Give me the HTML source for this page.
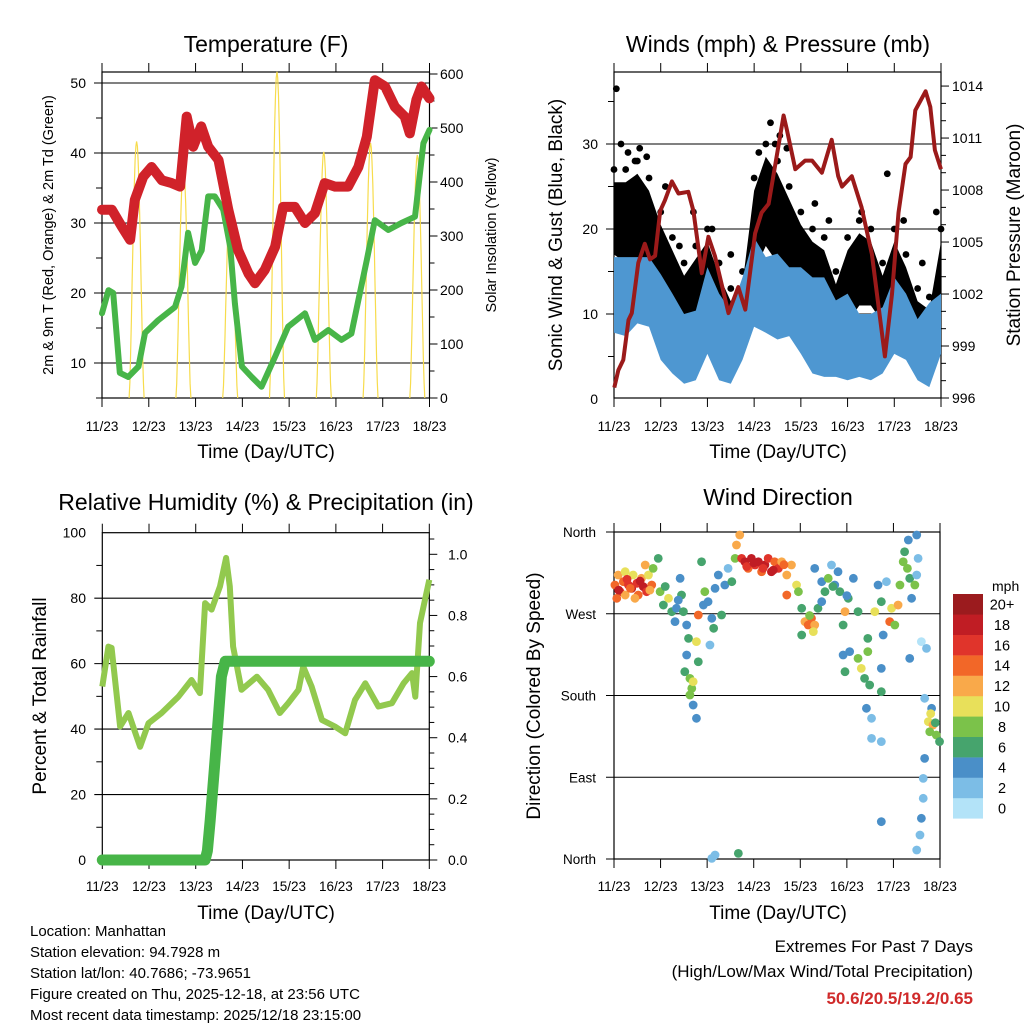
<!DOCTYPE html>
<html><head><meta charset="utf-8"><style>
html,body{margin:0;padding:0;background:#fff}
svg{display:block;font-family:"Liberation Sans",sans-serif}
</style></head><body>
<svg id="c" width="1024" height="1024" viewBox="0 0 1024 1024" xmlns="http://www.w3.org/2000/svg">
<rect width="1024" height="1024" fill="#fff"/>
<text x="266" y="52" font-size="23" text-anchor="middle">Temperature (F)</text>
<text x="778" y="52" font-size="23" text-anchor="middle">Winds (mph) &amp; Pressure (mb)</text>
<text x="266" y="510" font-size="23" text-anchor="middle">Relative Humidity (%) &amp; Precipitation (in)</text>
<text x="778" y="505" font-size="23" text-anchor="middle">Wind Direction</text>
<text x="266" y="458" font-size="19" text-anchor="middle">Time (Day/UTC)</text>
<text x="778" y="458" font-size="19" text-anchor="middle">Time (Day/UTC)</text>
<text x="266" y="919" font-size="19" text-anchor="middle">Time (Day/UTC)</text>
<text x="778" y="919" font-size="19" text-anchor="middle">Time (Day/UTC)</text>
<text transform="translate(53,235) rotate(-90)" font-size="14.5" text-anchor="middle">2m &amp; 9m T (Red, Orange) &amp; 2m Td (Green)</text>
<text transform="translate(496,235) rotate(-90)" font-size="14.5" text-anchor="middle">Solar Insolation (Yellow)</text>
<text transform="translate(562,235) rotate(-90)" font-size="19" text-anchor="middle">Sonic Wind &amp; Gust (Blue, Black)</text>
<text transform="translate(1020,235) rotate(-90)" font-size="19" text-anchor="middle">Station Pressure (Maroon)</text>
<text transform="translate(46,696) rotate(-90)" font-size="19" text-anchor="middle">Percent &amp; Total Rainfall</text>
<text transform="translate(540,696) rotate(-90)" font-size="19" text-anchor="middle">Direction (Colored By Speed)</text>
<g font-size="15">
<text x="30" y="936">Location: Manhattan</text>
<text x="30" y="957">Station elevation: 94.7928 m</text>
<text x="30" y="978">Station lat/lon: 40.7686; -73.9651</text>
<text x="30" y="999">Figure created on Thu, 2025-12-18, at 23:56 UTC</text>
<text x="30" y="1020">Most recent data timestamp: 2025/12/18 23:15:00</text>
</g>
<g font-size="17" text-anchor="end">
<text x="973" y="952">Extremes For Past 7 Days</text>
<text x="973" y="977">(High/Low/Max Wind/Total Precipitation)</text>
<text x="973" y="1004" fill="#d02a2a" font-weight="bold">50.6/20.5/19.2/0.65</text>
</g>
<g id="plots"></g>
</svg>
<script>
// ---------- data ----------
const dayLabels=["11/23","12/23","13/23","14/23","15/23","16/23","17/23","18/23"];
const tempTicks=[10,20,30,40,50];
const solarTicks=[0,100,200,300,400,500,600];
const windTicks=[0,10,20,30];
const pressTicks=[996,999,1002,1005,1008,1011,1014];
const rhTicks=[0,20,40,60,80,100];
const precipTicks=["0.0","0.2","0.4","0.6","0.8","1.0"];
const dirTicks=["North","East","South","West","North"];
const speedBins=["0","2","4","6","8","10","12","14","16","18","20+"];
const speedColors=["#b3e3f8","#7cbde6","#4a8fc8","#46a46d","#7bc24a","#e8e05a","#f9a94a","#f26728","#e0342b","#c01d24","#9b1b1e"];

const tempDays=[0,0.21,0.42,0.6,0.7,0.88,1.06,1.28,1.49,1.67,1.81,1.95,2.12,2.27,2.49,2.7,2.91,3.13,3.27,3.48,3.7,3.87,4.12,4.34,4.55,4.76,4.98,5.26,5.48,5.66,5.83,6.05,6.26,6.47,6.58,6.72,6.83,7.0];
const tempVals=[31.9,31.9,29.5,27.6,33.3,36.6,38.0,36.1,35.7,35.2,45.2,40.9,43.8,40.9,39,31.9,26.1,22.8,21.4,23.3,26.6,32.3,32.3,30,31.4,35.7,35.2,35.2,38,42.3,50.4,49.5,46.6,45.2,42.8,47.6,49.5,47.8];
const dewDays=[0,0.14,0.24,0.38,0.56,0.78,0.92,1.2,1.56,1.7,1.84,1.99,2.13,2.27,2.41,2.59,2.74,2.84,2.99,3.2,3.41,3.7,3.98,4.34,4.55,4.84,5.12,5.33,5.48,5.66,5.83,6.12,6.4,6.69,6.87,7.0];
const dewVals=[17.1,20.4,20,8.6,8,9.5,14.3,16.1,18,20.9,28.6,24.3,26.1,33.8,33.8,31.9,26.6,18.5,9.5,8,6.6,10.9,15.2,17.1,13.3,14.7,13.3,14.2,19,24.7,30.4,29,30,30.9,41.4,43.3];
const solarPeaks=[475,428,373,604,456,472,450];

const pressDays=[0.007,0.093,0.2,0.31,0.38,0.52,0.66,0.77,0.88,0.99,1.09,1.24,1.38,1.59,1.7,1.88,2.02,2.16,2.45,2.66,2.81,3.02,3.16,3.31,3.63,3.7,3.88,4.09,4.24,4.45,4.66,4.8,4.88,5.09,5.3,5.52,5.8,5.95,6.09,6.24,6.35,6.45,6.67,6.77,6.87,7.0];
const pressVals=[996.6,997.6,998.2,1000.5,1000.9,1003.8,1004.9,1004.0,1004.2,1006.8,1007.4,1008.5,1007.8,1007.9,1006.8,1003.2,1005.3,1004.2,1000.9,1002.4,1001.1,1005.5,1006.7,1007.2,1012.3,1011.5,1009.2,1009.7,1009.7,1009.0,1010.9,1008.8,1008.2,1008.8,1007.0,1004.3,998.4,1002.0,1006.7,1009.5,1009.9,1012.6,1013.7,1012.8,1010.3,1009.2];
const windHi=[16.7,16.7,16.7,16.7,14.7,12.4,10.0,10.4,15.5,12.4,10.4,14.3,19.0,16.7,17.1,15.5,15.5,14.3,14.3,11.6,12.4,10.0,10.0,10.8,14.3,12.4,9.4,11.3,12.4];
const windLo=[7.8,7.4,8.9,8.5,4.6,3.0,1.8,2.2,5.3,2.2,1.8,4.6,8.5,7.8,7.0,7.4,5.3,3.0,2.6,2.6,2.2,2.6,2.2,3.0,5.3,4.6,2.2,1.4,5.3];
const gustHi=[27,27,28,26,22,19,16,18,20,16,13,15,26,30,28,25,22,20,19,15,19,21,20,16,20,17,13,12,20];
const gustLo=[17,16,16,16,12,9,7,8,11,8,5,8,15,18,16,15,12,10,8,6,9,11,11,9,10,9,6,6,10];
const gustOutDays=[0.05,0.3,0.55,0.7,1.7,2.5,3.35,3.45,3.7,5.85,6.2,1.1,4.3,6.9,0.15,0.45,1.4,2.1,3.1,3.55,4.6,5.3,6.6];
const gustOutVals=[36.5,29,29.5,28.5,22,17,32.5,30,29.5,26.5,21,25,23,22,30,28,18,20,29,31,21,22,16];

const rhDays=[0,0.13,0.2,0.38,0.56,0.81,0.99,1.27,1.63,1.91,2.09,2.2,2.34,2.52,2.65,2.73,2.8,2.98,3.31,3.55,3.8,3.98,4.2,4.3,4.48,4.7,4.98,5.2,5.41,5.63,5.91,6.2,6.45,6.63,6.7,6.8,7.0];
const rhVals=[53,65.2,64.8,40.8,44.9,34.6,41.8,44.9,49.9,55,51,78.5,76.5,83.6,92.3,83.6,65.2,52,56,52,44.9,47.9,52,59.1,53,42.8,40.8,38.7,48.9,54,46.9,47.9,54,57.1,49.9,72.4,85.6];
const precipDays=[0,2.2,2.25,2.31,2.4,2.48,2.55,2.63,7];
const precipVals=[0,0,0.03,0.13,0.3,0.46,0.6,0.65,0.65];

const dirDays=[0.02,0.09,0.13,0.2,0.24,0.31,0.38,0.41,0.49,0.52,0.59,0.63,0.7,0.74,0.81,0.67,0.84,0.24,0.06,0.45,
0.95,0.99,1.06,1.17,1.24,1.34,1.42,1.45,1.31,1.49,
1.56,1.6,1.56,1.52,1.63,1.67,1.63,1.7,1.77,1.7,1.81,1.77,1.81,
1.88,1.95,1.92,2.02,2.1,2.06,2.17,2.24,2.31,2.38,2.45,2.53,2.6,2.63,2.7,2.14,
2.74,2.81,2.88,2.95,3.03,3.1,3.17,3.24,3.31,3.38,3.45,3.53,3.6,3.71,3.71,3.81,3.92,3.96,
4.03,4.1,4.17,4.24,4.31,4.28,4.03,4.38,4.46,
4.31,4.46,4.53,4.6,4.67,4.74,4.81,4.85,4.96,5.03,5.14,5.24,4.92,4.92,4.96,5.06,
5.24,5.31,5.38,5.45,5.49,5.42,5.53,5.53,5.45,5.6,5.67,5.74,5.78,5.74,5.74,5.74,5.74,5.85,5.92,5.96,6.03,6.1,
6.14,6.21,6.24,6.32,6.35,6.39,6.46,6.5,6.53,6.5,6.35,6.6,6.71,
6.67,6.82,6.75,6.85,6.78,6.92,6.99,6.67,6.64,6.64,6.6,6.57,6.5,
2.1,2.17,2.67,
0.1,0.28,0.35,0.56,0.77,1.1,1.38,2.85,3.0,3.2,3.42,3.65,4.2,4.7,5.0,6.3,6.9,6.8];
const dirVals=[301.7,312.7,294.3,305.3,290.6,301.7,298,312.7,303.5,290.6,309,299.8,294.3,312.7,301.7,323.7,320,316.3,287,287,
331,294.3,279.6,287,272.3,276,309,290.6,261.3,272.3,
257.6,242.9,224.6,206.2,198.9,187.9,180.6,169.5,154.9,195.2,217.2,239.3,268.6,
327.3,294.3,279.6,283.3,265,235.6,298,312.7,268.6,301.7,320,305.3,331,345.7,356.7,254,
331,327.3,320,331,323.7,327.3,316.3,323.7,331,316.3,327.3,320,327.3,312.7,290.6,323.7,301.7,294.3,
276,261.3,257.6,265,257.6,250.3,246.6,276,283.3,
320,305.3,294.3,309,323.7,301.7,316.3,294.3,272.3,287,309,272.3,257.6,224.6,206.2,228.3,
220.9,209.9,198.9,228.3,191.6,165.9,154.9,132.8,242.9,272.3,301.7,283.3,246.6,209.9,184.2,129.2,41.1,305.3,261.3,276,257.6,279.6,
301.7,327.3,338.3,351.2,309,287,301.7,356.7,331,312.7,220.9,239.3,231.9,
176.9,165.9,151.2,147.5,140.1,136.5,129.2,110.8,88.8,66.8,44.8,26.4,9.9,
0.7,4.4,6.2,
296,308,298,306,296,300,285,322,326,320,318,324,268,300,290,320,150,160];
const dirSpeeds=[14,12,16,14,12,16,18,10,16,14,12,18,16,10,14,12,8,10,14,12,
6,8,6,10,6,4,4,6,4,6,
4,6,4,6,8,8,8,4,4,10,6,10,14,
6,8,4,4,4,2,4,4,6,4,2,6,8,12,12,6,
16,18,14,18,16,18,14,18,16,18,14,16,12,12,14,12,10,8,
6,12,14,14,12,10,6,6,4,
4,4,6,8,2,4,4,6,12,6,4,6,6,4,6,4,
8,10,6,8,6,4,2,2,6,10,4,6,4,4,6,2,4,2,14,10,8,12,
8,8,6,4,6,4,8,4,2,2,4,0,2,
2,4,10,12,8,8,6,4,2,2,4,2,2,
2,2,6,
18,16,14,18,12,6,4,16,18,16,18,14,8,6,4,8,6,10];

// ---------- helpers ----------
const NS="http://www.w3.org/2000/svg";
const root=document.getElementById('plots');
function mk(tag,attrs,parent){const e=document.createElementNS(NS,tag);for(const k in attrs)e.setAttribute(k,attrs[k]);(parent||root).appendChild(e);return e;}
function txt(s,x,y,size,anchor,parent){const t=mk('text',{x:x,y:y,'font-size':size,'text-anchor':anchor},parent);t.textContent=s;return t;}
function path(pts){return pts.map((p,i)=>(i?'L':'M')+p[0].toFixed(1)+' '+p[1].toFixed(1)).join('');}

function frame(P,name,xlabY){
  const g=mk('g',{});
  
  
  for(let i=0;i<=7;i++){
    const x=P.x0+i*(P.x1-P.x0)/7;
    mk('line',{x1:x,y1:P.top-9,x2:x,y2:P.top,stroke:'#000','stroke-width':1},g);
    mk('line',{x1:x,y1:P.bot,x2:x,y2:P.bot+9,stroke:'#000','stroke-width':1},g);
    const t=txt(dayLabels[i],x,xlabY,13.5,'middle',g);
    
    
  }
  mk('rect',{x:P.x0,y:P.top,width:P.x1-P.x0,height:P.bot-P.top,fill:'none',stroke:'#000','stroke-width':1.2},g);
  return g;
}
function hgrid(P,y,g){mk('line',{x1:P.x0-8,y1:y,x2:P.x1,y2:y,stroke:'#000','stroke-width':1.1},g);}

// ---------- Panel 1: temperature ----------
(function(){
  const P={x0:102,x1:429.5,top:72,bot:398};
  const X=d=>P.x0+d*(P.x1-P.x0)/7;
  const YL=v=>363-(v-10)*7;
  const YR=s=>398-s*0.54;
  const g=frame(P,'temperature',431);
  tempTicks.forEach(v=>{hgrid(P,YL(v),g);const t=txt(String(v),86,YL(v)+5,14,'end',g);
    mk('line',{x1:P.x0-6,y1:YL(v-5),x2:P.x0,y2:YL(v-5),stroke:'#000'},g);});
  solarTicks.forEach(v=>{mk('line',{x1:P.x1,y1:YR(v),x2:P.x1+8,y2:YR(v),stroke:'#000'},g);if(v<600)mk('line',{x1:P.x1,y1:YR(v+50),x2:P.x1+5,y2:YR(v+50),stroke:'#000'},g);
    const t=txt(String(v),440,YR(v)+5,14,'start',g);});
  solarPeaks.forEach((pk,i)=>{
    const pts=[];for(let k=0;k<=20;k++){const f=k/20;const d=i+0.58+f*0.32;pts.push([X(d),YR(pk*Math.pow(Math.sin(Math.PI*f),1.5))]);}
    const p=mk('path',{d:path(pts),fill:'none',stroke:'#f7dc4c','stroke-width':1.2});
    
    
  });
  const dew=mk('path',{d:path(dewDays.map((d,i)=>[X(d),YL(dewVals[i])])),fill:'none',stroke:'#47b548','stroke-width':6,'stroke-linejoin':'round','stroke-linecap':'round'});
  
  
  const tl=mk('path',{d:path(tempDays.map((d,i)=>[X(d),YL(tempVals[i])])),fill:'none',stroke:'#d0222a','stroke-width':10,'stroke-linejoin':'round','stroke-linecap':'round'});
  
  
})();

// ---------- Panel 2: winds ----------
(function(){
  const P={x0:614,x1:941,top:72,bot:398};
  const X=d=>P.x0+d*(P.x1-P.x0)/7;
  const YL=v=>399-v*8.5;
  const YP=p=>398-(p-996)*17.33;
  const g=frame(P,'winds',431);
  windTicks.forEach(v=>{if(v>0)hgrid(P,YL(v),g);const t=txt(String(v),598,YL(v)+5,14,'end',g);
    mk('line',{x1:P.x0-6,y1:YL(v+5),x2:P.x0,y2:YL(v+5),stroke:'#000'},g);});
  pressTicks.forEach(v=>{mk('line',{x1:P.x1,y1:YP(v),x2:P.x1+8,y2:YP(v),stroke:'#000'},g);
    if(v<1014)for(let m=1;m<3;m++)mk('line',{x1:P.x1,y1:YP(v+m),x2:P.x1+5,y2:YP(v+m),stroke:'#000'},g);
    const t=txt(String(v),952,YP(v)+5,14,'start',g);});
  const step=7/(gustHi.length-1);
  const gpts=gustHi.map((v,i)=>[X(i*step),YL(v-1.5)]).concat(gustLo.map((v,i)=>[X(i*step),YL(v)]).reverse());
  const gb=mk('path',{d:path(gpts)+'Z',fill:'#000'});
  
  
  gustHi.forEach((v,i)=>{const c=mk('circle',{cx:X(i*step),cy:YL(v),r:3.4,fill:'#000'});});
  gustOutDays.forEach((d,i)=>{const c=mk('circle',{cx:X(d),cy:YL(gustOutVals[i]),r:3.4,fill:'#000'});});
  const ws=7/(windHi.length-1);
  const wp=windHi.map((v,i)=>[X(i*ws),YL(v)]).concat(windLo.map((v,i)=>[X(i*ws),YL(v)]).reverse());
  const wb=mk('path',{d:path(wp)+'Z',fill:'#4e97d1'});
  
  
  const pl=mk('path',{d:path(pressDays.map((d,i)=>[X(d),YP(pressVals[i])])),fill:'none',stroke:'#9b1a1a','stroke-width':4,'stroke-linejoin':'round'});
  
  
})();

// ---------- Panel 3: humidity ----------
(function(){
  const P={x0:102.3,x1:429.3,top:532.7,bot:860};
  const X=d=>P.x0+d*(P.x1-P.x0)/7;
  const YL=v=>860-v*3.273;
  const YR=p=>860-p*305.7;
  const g=frame(P,'humidity',891);
  rhTicks.forEach(v=>{if(v>0&&v<100)hgrid(P,YL(v),g);const t=txt(String(v),86,YL(v)+5,14,'end',g);
    if(v<100)mk('line',{x1:P.x0-6,y1:YL(v+10),x2:P.x0,y2:YL(v+10),stroke:'#000'},g);});
  precipTicks.forEach((s,i)=>{const v=i*0.2;mk('line',{x1:P.x1,y1:YR(v),x2:P.x1+8,y2:YR(v),stroke:'#000'},g);
    for(let m=1;m<4;m++){if(v+m*0.05<1.07)mk('line',{x1:P.x1,y1:YR(v+m*0.05),x2:P.x1+5,y2:YR(v+m*0.05),stroke:'#000'},g);}
    const t=txt(s,448,YR(v)+5,14,'start',g);});
  const rl=mk('path',{d:path(rhDays.map((d,i)=>[X(d),YL(rhVals[i])])),fill:'none',stroke:'#92c94e','stroke-width':6,'stroke-linejoin':'round'});
  
  
  const pl=mk('path',{d:path(precipDays.map((d,i)=>[X(d),YR(precipVals[i])])),fill:'none',stroke:'#47b548','stroke-width':11,'stroke-linejoin':'round','stroke-linecap':'round'});
  
  
})();

// ---------- Panel 4: wind direction ----------
(function(){
  const P={x0:614,x1:940,top:532,bot:859};
  const X=d=>P.x0+d*(P.x1-P.x0)/7;
  const YD=v=>859-v*0.9083;
  const g=frame(P,'wind-direction',891);
  dirTicks.forEach((s,i)=>{const y=YD(i*90);if(i>0&&i<4)hgrid(P,y,g);else mk('line',{x1:P.x0-8,y1:y,x2:P.x0,y2:y,stroke:'#000'},g);
    const t=txt(s,596,y+5,13.5,'end',g);});
  dirDays.forEach((d,i)=>{
    const b=Math.min(10,Math.floor(dirSpeeds[i]/2));
    const c=mk('circle',{cx:X(d),cy:YD(dirVals[i]),r:4.4,fill:speedColors[b]});
    
    
  });
  const cb=mk('g',{});
  
  
  txt('mph',992,591,14,'start',cb);
  speedBins.forEach((s,i)=>{
    const y=594+(10-i)*20.4;
    mk('rect',{x:953,y:y,width:30,height:20.6,fill:speedColors[i]},cb);
    const t=txt(s,1002,y+15.5,14.5,'middle',cb);
    
    
  });
})();
</script>
</body></html>
